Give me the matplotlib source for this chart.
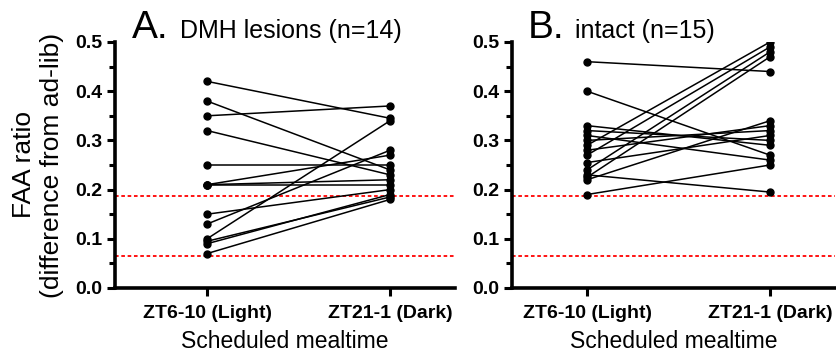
import numpy as np
import matplotlib
matplotlib.use("Agg")
from matplotlib import pyplot as plt
from matplotlib.ticker import MultipleLocator, FormatStrFormatter

plt.rcParams['font.family'] = ['Liberation Sans', 'DejaVu Sans']

categories = ["ZT6-10 (Light)", "ZT21-1 (Dark)"]

# DMH lesions (n=14): light -> dark per animal
dmh_light = [0.42, 0.38, 0.35, 0.32, 0.25, 0.21, 0.21, 0.21, 0.15, 0.13, 0.10, 0.095, 0.09, 0.07]
dmh_dark = [0.345, 0.24, 0.37, 0.23, 0.25, 0.27, 0.22, 0.21, 0.20, 0.28, 0.34, 0.185, 0.19, 0.18]

# intact (n=15)
intact_light = [0.46, 0.40, 0.33, 0.32, 0.31, 0.30, 0.29, 0.28, 0.27, 0.255, 0.24, 0.23, 0.225, 0.22, 0.19]
intact_dark = [0.44, 0.27, 0.29, 0.30, 0.26, 0.32, 0.50, 0.33, 0.49, 0.31, 0.48, 0.195, 0.47, 0.34, 0.25]

ref_lines = [0.187, 0.065]

W, H = 837, 358
fig = plt.figure(figsize=(W / 100, H / 100), dpi=100)

def px_axes(left, right, top, bottom):
    return fig.add_axes([left / W, 1 - bottom / H, (right - left) / W, (bottom - top) / H])

axA = px_axes(115, 455, 42, 288)
axB = px_axes(512, 835, 42, 288)

def draw(ax, light, dark, xlim):
    for a, b in zip(light, dark):
        ax.plot([0, 1], [a, b], color='black', lw=1.1, marker='o', ms=5,
                mfc='black', mec='black', zorder=3)
    for r in ref_lines:
        ax.axhline(r, color='red', ls=(0, (2, 1.5)), lw=1.3, zorder=2)
    ax.set_xlim(*xlim)
    ax.set_ylim(0, 0.5)
    ax.yaxis.set_major_locator(MultipleLocator(0.1))
    ax.yaxis.set_minor_locator(MultipleLocator(0.05))
    ax.yaxis.set_major_formatter(FormatStrFormatter('%.1f'))
    ax.set_xticks([0, 1])
    ax.set_xticklabels(categories, fontsize=14, fontweight='bold')
    for lab in ax.get_yticklabels():
        lab.set_fontweight('bold')
    ax.tick_params(axis='y', labelsize=14, width=2.2, length=6, direction='out', pad=3)
    ax.tick_params(axis='y', which='minor', width=2.2, length=4)
    ax.tick_params(axis='x', width=2.2, length=6, direction='out', pad=6)
    for s in ['top', 'right']:
        ax.spines[s].set_visible(False)
    for s in ['left', 'bottom']:
        ax.spines[s].set_linewidth(2.6)
    ax.set_xlabel("Scheduled mealtime", fontsize=16.5, labelpad=6)

draw(axA, dmh_light, dmh_dark, (-0.503, 1.355))
draw(axB, intact_light, intact_dark, (-0.41, 1.355))

axA.set_ylabel("FAA ratio\n(difference from ad-lib)", fontsize=19, labelpad=8, linespacing=1.2)

fig.text(132 / W, 1 - 38 / H, "A.", fontsize=28, va='baseline')
fig.text(180 / W, 1 - 38 / H, "DMH lesions (n=14)", fontsize=18, va='baseline')
fig.text(528 / W, 1 - 38 / H, "B.", fontsize=28, va='baseline')
fig.text(575 / W, 1 - 38 / H, "intact (n=15)", fontsize=18, va='baseline')

fig.savefig("out.png", dpi=100)
